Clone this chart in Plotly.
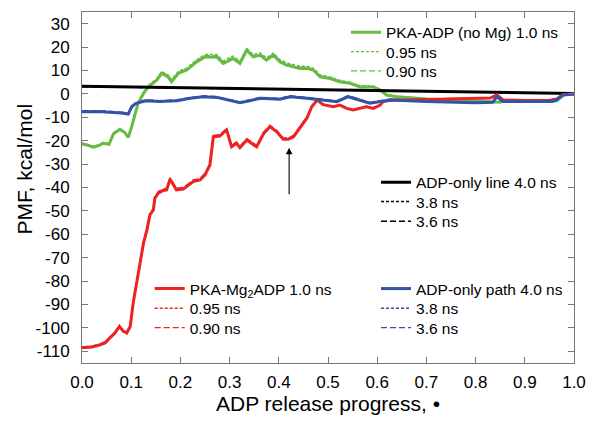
import plotly.graph_objects as go

# ---------------- data ----------------
green_x = [0.0, 0.01, 0.023, 0.035, 0.043, 0.055, 0.064, 0.077, 0.087, 0.094, 0.101, 0.108, 0.114, 0.125,
           0.135, 0.152, 0.162, 0.175, 0.182, 0.196, 0.213, 0.233, 0.250, 0.274, 0.287, 0.307, 0.321, 0.335,
           0.341, 0.348, 0.362, 0.375, 0.389, 0.402, 0.416, 0.443, 0.457, 0.470, 0.484, 0.504, 0.524, 0.545,
           0.565, 0.592, 0.606, 0.619, 0.640, 0.660, 0.70, 0.75, 0.80, 0.85, 0.86, 0.90, 0.95, 0.965, 0.978,
           0.99, 1.0]
green_10 = [-21.4, -21.8, -22.8, -22.0, -21.1, -21.5, -17.0, -15.1, -16.5, -18.6, -14.0, -8.3, -4.0, 0.2,
            3.0, 5.9, 8.8, 7.3, 5.2, 8.8, 10.2, 13.7, 15.8, 15.8, 13.0, 15.1, 13.0, 18.7,
            17.3, 15.8, 16.6, 14.4, 16.6, 13.7, 12.3, 10.9, 10.9, 10.2, 7.3, 6.6, 5.2, 4.5,
            3.0, 3.0, 1.6, -0.5, -1.2, -1.5, -2.2, -2.6, -3.2, -3.6, -2.8, -3.3, -3.3, -3.0, -0.5,
            0.3, 0.0]
green_095 = [-21.0, -21.5, -22.4, -21.7, -20.8, -21.2, -16.6, -14.8, -16.2, -18.2, -13.6, -7.9, -3.5, 0.8,
             3.6, 6.6, 9.6, 8.2, 6.1, 9.7, 11.1, 14.6, 16.8, 16.9, 14.1, 16.2, 14.1, 19.5,
             18.3, 16.8, 17.6, 15.4, 17.5, 14.7, 13.3, 11.8, 11.8, 11.0, 8.1, 7.3, 5.8, 5.0,
             3.5, 3.4, 1.9, -0.3, -1.0, -1.3, -2.0, -2.4, -3.0, -3.4, -2.6, -3.1, -3.1, -2.8, -0.4,
             0.3, 0.0]
green_090 = [-21.2, -21.6, -22.6, -21.8, -20.9, -21.3, -16.8, -14.9, -16.3, -18.4, -13.8, -8.1, -3.7, 0.5,
             3.3, 6.3, 9.3, 7.8, 5.7, 9.3, 10.7, 14.2, 16.4, 16.4, 13.6, 15.7, 13.6, 19.2,
             17.8, 16.3, 17.1, 14.9, 17.1, 14.2, 12.8, 11.4, 11.4, 10.6, 7.7, 7.0, 5.5, 4.8,
             3.2, 3.2, 1.8, -0.4, -1.1, -1.4, -2.1, -2.5, -3.1, -3.5, -2.7, -3.2, -3.2, -2.9, -0.4,
             0.3, 0.0]

red_x = [0.0, 0.02, 0.037, 0.047, 0.060, 0.067, 0.076, 0.084, 0.091, 0.098, 0.104, 0.111, 0.118, 0.125,
         0.132, 0.138, 0.145, 0.148, 0.155, 0.165, 0.172, 0.179, 0.186, 0.192, 0.206, 0.226, 0.240, 0.250,
         0.260, 0.267, 0.280, 0.294, 0.304, 0.314, 0.321, 0.335, 0.355, 0.369, 0.382, 0.396, 0.409, 0.419,
         0.430, 0.443, 0.457, 0.467, 0.478, 0.490, 0.511, 0.524, 0.538, 0.551, 0.565, 0.578, 0.592, 0.606,
         0.612, 0.632, 0.66, 0.70, 0.75, 0.80, 0.83, 0.843, 0.856, 0.90, 0.95, 0.965, 0.978, 1.0]
red_10 = [-108.5, -108.2, -107.2, -106.4, -103.6, -102.2, -99.4, -101.5, -102.2, -99.4, -89.4, -80.9, -72.3, -63.8,
          -58.1, -51.7, -49.6, -44.6, -42.4, -41.3, -41.0, -36.5, -38.9, -41.0, -40.7, -37.5, -36.8, -34.6,
          -30.4, -18.3, -18.0, -15.4, -22.6, -21.1, -23.0, -19.7, -22.6, -17.0, -14.0, -16.2, -19.4, -19.4,
          -18.3, -14.7, -10.4, -5.5, -2.6, -4.6, -5.5, -4.8, -6.2, -6.9, -6.2, -5.5, -6.2, -4.8,
          -3.3, -2.6, -2.6, -2.4, -2.2, -2.0, -1.8, -0.5, -2.6, -2.8, -2.8, -2.2, -0.2, 0.0]
red_095 = [-108.2, -108.0, -107.0, -106.1, -103.3, -101.9, -99.1, -101.2, -101.9, -99.1, -89.0, -80.5, -71.9, -63.4,
           -57.7, -51.3, -49.2, -44.2, -42.0, -40.9, -40.6, -36.1, -38.5, -40.6, -40.3, -37.1, -36.4, -34.2,
           -30.0, -18.0, -17.7, -15.1, -22.3, -20.8, -22.7, -19.4, -22.3, -16.7, -13.7, -15.9, -19.1, -19.1,
           -18.0, -14.4, -10.1, -5.3, -2.5, -4.5, -5.4, -4.7, -6.1, -6.8, -6.1, -5.4, -6.1, -4.7,
           -3.2, -2.5, -2.5, -2.3, -2.1, -1.9, -1.7, -0.4, -2.5, -2.7, -2.7, -2.1, -0.2, 0.0]
red_090 = [-108.0, -107.8, -106.8, -105.9, -103.1, -101.7, -98.9, -101.0, -101.7, -98.9, -88.7, -80.2, -71.6, -63.1,
           -57.4, -51.0, -48.9, -43.9, -41.7, -40.6, -40.3, -35.8, -38.2, -40.3, -40.0, -36.8, -36.1, -33.9,
           -29.7, -17.7, -17.4, -14.8, -22.0, -20.5, -22.4, -19.1, -22.0, -16.4, -13.4, -15.6, -18.8, -18.8,
           -17.7, -14.1, -9.9, -5.1, -2.4, -4.4, -5.3, -4.6, -6.0, -6.7, -6.0, -5.3, -6.0, -4.6,
           -3.1, -2.4, -2.4, -2.2, -2.0, -1.8, -1.6, -0.3, -2.4, -2.6, -2.6, -2.0, -0.2, 0.0]

black_x = [0.0, 1.0]
black_40 = [3.3, 0.2]
black_38 = [3.2, 0.2]
black_36 = [3.1, 0.2]

blue_x = [0.0, 0.04, 0.08, 0.094, 0.101, 0.108, 0.114, 0.130, 0.158, 0.193, 0.220, 0.246, 0.274, 0.300,
          0.321, 0.341, 0.362, 0.402, 0.423, 0.457, 0.484, 0.518, 0.541, 0.585, 0.626, 0.66, 0.70, 0.80,
          0.835, 0.843, 0.856, 0.90, 0.955, 0.965, 0.978, 1.0]
blue_40 = [-7.6, -7.6, -8.2, -8.6, -5.5, -4.3, -3.8, -2.9, -3.3, -2.9, -1.9, -1.2, -1.5, -2.6,
           -3.8, -2.9, -1.9, -2.3, -1.2, -1.9, -2.6, -3.3, -1.2, -4.0, -2.6, -3.0, -3.3, -3.8,
           -3.6, -1.2, -3.3, -3.3, -3.3, -2.5, -0.5, 0.0]
blue_38 = [-7.4, -7.4, -8.0, -8.4, -5.3, -4.1, -3.6, -2.7, -3.1, -2.7, -1.7, -1.0, -1.3, -2.4,
           -3.6, -2.7, -1.7, -2.1, -1.0, -1.7, -2.4, -3.1, -1.0, -3.8, -2.4, -2.8, -3.1, -3.6,
           -3.4, -1.0, -3.1, -3.1, -3.1, -2.3, -0.4, 0.0]
blue_36 = [-7.2, -7.2, -7.8, -8.2, -5.1, -3.9, -3.4, -2.5, -2.9, -2.5, -1.5, -0.8, -1.1, -2.2,
           -3.4, -2.5, -1.5, -1.9, -0.8, -1.5, -2.2, -2.9, -0.8, -3.6, -2.2, -2.6, -2.9, -3.4,
           -3.2, -0.8, -2.9, -2.9, -2.9, -2.1, -0.3, 0.0]

x_ticks = [0.0, 0.1, 0.2, 0.3, 0.4, 0.5, 0.6, 0.7, 0.8, 0.9, 1.0]
y_ticks = [30, 20, 10, 0, -10, -20, -30, -40, -50, -60, -70, -80, -90, -100, -110]

GREEN = "#66bb44"
RED = "#ee2222"
BLACK = "#000000"
BLUE = "#3353a8"
FONT = "Liberation Sans"

SMALL_DASH = "3px,2px"
LONG_DASH = "6px,3px"

fig = go.Figure()

# (x, y, color, name, legend id, dash, width) -- dashed first, solid drawn on top
traces = [
    (green_x, green_095, GREEN, "0.95 ns", "legend2", SMALL_DASH, 1.4),
    (green_x, green_090, GREEN, "0.90 ns", "legend3", LONG_DASH, 1.4),
    (red_x, red_095, RED, "0.95 ns", "legend8", SMALL_DASH, 1.4),
    (red_x, red_090, RED, "0.90 ns", "legend9", LONG_DASH, 1.4),
    (black_x, black_38, BLACK, "3.8 ns", "legend5", SMALL_DASH, 1.4),
    (black_x, black_36, BLACK, "3.6 ns", "legend6", LONG_DASH, 1.4),
    (blue_x, blue_38, BLUE, "3.8 ns", "legend11", SMALL_DASH, 1.4),
    (blue_x, blue_36, BLUE, "3.6 ns", "legend12", LONG_DASH, 1.4),
    (green_x, green_10, GREEN, "PKA-ADP (no Mg) 1.0 ns", "legend", "solid", 3.0),
    (black_x, black_40, BLACK, "ADP-only line 4.0 ns", "legend4", "solid", 3.0),
    (red_x, red_10, RED, "PKA-Mg<sub>2</sub>ADP 1.0 ns", "legend7", "solid", 3.0),
    (blue_x, blue_40, BLUE, "ADP-only path 4.0 ns", "legend10", "solid", 3.0),
]
for x, y, c, name, leg, dash, w in traces:
    fig.add_trace(go.Scatter(x=x, y=y, mode="lines", name=name, legend=leg,
                             line=dict(color=c, width=w, dash=dash)))

fig.add_annotation(x=0.421, y=-23, ax=0.421, ay=-43.5, xref="x", yref="y", axref="x", ayref="y",
                   showarrow=True, arrowhead=2, arrowsize=1.2, arrowwidth=1.1, arrowcolor="black", text="")

fig.add_annotation(x=-0.116, y=0.554, xref="paper", yref="paper", text="PMF, kcal/mol", textangle=-90,
                   showarrow=False, xanchor="center", yanchor="middle",
                   font=dict(family=FONT, size=21, color="black"))

leg_common = dict(bgcolor="rgba(0,0,0,0)", borderwidth=0, font=dict(family=FONT, size=15.5, color="black"),
                  xanchor="left", yanchor="middle", itemwidth=30, tracegroupgap=0)

# legend box positions (paper coords): rows of each group
XL_G, XL_K, XL_R, XL_B = 0.5366, 0.5976, 0.1376, 0.5976
legends = {
    "legend": (XL_G, 0.941), "legend2": (XL_G, 0.886), "legend3": (XL_G, 0.831),
    "legend4": (XL_K, 0.5137), "legend5": (XL_K, 0.4587), "legend6": (XL_K, 0.4026),
    "legend7": (XL_R, 0.2108), "legend8": (XL_R, 0.1547), "legend9": (XL_R, 0.0997),
    "legend10": (XL_B, 0.2108), "legend11": (XL_B, 0.1547), "legend12": (XL_B, 0.0997),
}
fig.update_layout(**{k: dict(x=v[0], y=v[1], **leg_common) for k, v in legends.items()})

fig.update_layout(
    width=590, height=422,
    margin=dict(l=82, r=16, t=12, b=59),
    paper_bgcolor="white", plot_bgcolor="white",
    font=dict(family=FONT, size=17, color="black"),
    showlegend=True,
    xaxis=dict(range=[0, 1], tickvals=x_ticks, ticktext=[f"{v:.1f}" for v in x_ticks],
               ticks="inside", ticklen=6, tickcolor="#777", showline=True, linecolor="#777", linewidth=1,
               mirror="ticks", showgrid=False, zeroline=False, automargin=False, ticklabelstandoff=4,
               tickfont=dict(family=FONT, size=17),
               title=dict(text="ADP release progress, •", font=dict(family=FONT, size=21), standoff=0)),
    yaxis=dict(range=[-115, 35], tickvals=y_ticks, ticktext=[str(v) for v in y_ticks],
               ticks="inside", ticklen=6, tickcolor="#777", showline=True, linecolor="#777", linewidth=1,
               mirror="ticks", showgrid=False, zeroline=False, automargin=False, ticklabelstandoff=8,
               tickfont=dict(family=FONT, size=17)),
)

# remove the default 8px page margin so the 590x422 figure fills the window exactly
fig.write_html("out.html", config={"displayModeBar": False},
               post_script="document.body.style.margin='0';document.body.style.overflow='hidden';")
